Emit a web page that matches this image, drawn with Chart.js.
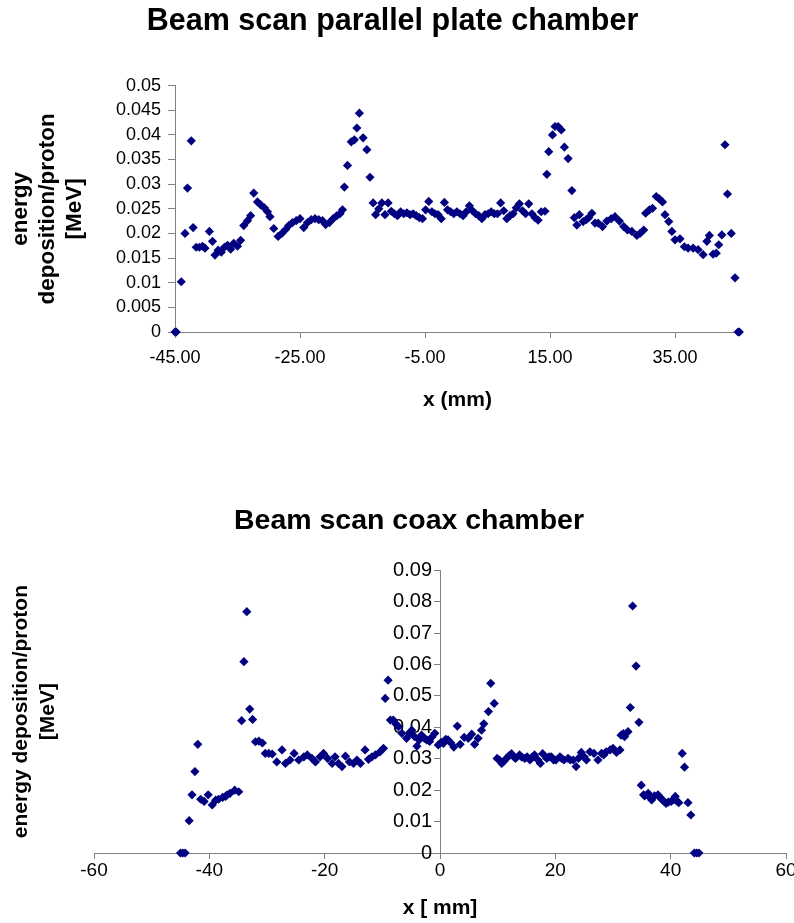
<!DOCTYPE html>
<html>
<head>
<meta charset="utf-8">
<script src="https://cdn.jsdelivr.net/npm/chart.js@4"></script>
<style>
    html, body { margin: 0; padding: 0; background: #fff; }
    #caixaTopo { position: absolute; left: 0; top: 0; width: 794px; height: 462px; }
    #caixaBaixo { position: absolute; left: 0; top: 462px; width: 794px; height: 461px; }
</style>
</head>
<body>
<div id="caixaTopo"><canvas id="graficoTopo"></canvas></div>
<div id="caixaBaixo"><canvas id="graficoBaixo"></canvas></div>
<script>
//===============================================================
// ========================= DADOS ==============================
//===============================================================

// parallel plate chamber
const xTop = [
    -45.0, -44.8, -44.0, -43.4, -43.0, -42.4, -42.1, -41.6, -41.1, -40.6,
    -40.2, -39.5, -39.0, -38.6, -38.1, -37.6, -37.1, -36.6, -36.1, -35.6,
    -35.0, -34.5, -34.0, -33.4, -32.9, -32.4, -31.8, -31.3, -30.7, -30.2,
    -29.8, -29.2, -28.5, -27.9, -27.3, -26.8, -26.2, -25.6, -25.0, -24.4,
    -23.8, -23.2, -22.6, -22.0, -21.4, -20.9, -20.3, -19.7, -19.1, -18.6,
    -18.2, -17.9, -17.4, -16.8, -16.3, -15.9, -15.5, -14.9, -14.3, -13.8,
    -13.3, -12.9,
    -12.4, -11.9, -11.4, -10.9, -10.4, -9.9, -9.4, -8.9, -8.4, -7.9,
    -7.4, -6.9, -6.4, -5.9, -5.4, -4.9, -4.4, -3.9, -3.4, -2.9,
    -2.4, -1.9, -1.4, -0.9, -0.4, 0.1, 0.6, 1.1, 1.6, 2.1,
    2.6, 3.1, 3.6, 4.1, 4.6, 5.1, 5.6, 6.1, 6.6, 7.1,
    7.6, 8.1, 8.6, 9.1, 9.6, 10.1, 10.6, 11.1, 11.6, 12.1,
    12.6, 13.1, 13.6,
    14.2, 14.5, 14.8, 15.4, 15.8, 16.3, 16.8, 17.3, 17.9, 18.5,
    18.9, 19.3, 19.7, 20.3, 20.8, 21.2, 21.7, 22.2, 22.7, 23.4,
    24.1, 24.8, 25.4, 26.1, 26.8, 27.4, 28.1, 28.9, 29.4, 30.0,
    30.3, 30.9, 31.4, 32.0, 32.5, 33.0, 33.4, 34.0, 34.5, 35.0,
    35.8, 36.5, 37.1, 37.9, 38.7, 39.5, 40.1, 40.5, 41.1, 41.6,
    42.0, 42.5, 43.0, 43.4, 44.0, 44.6, 45.1, 45.3
];
const yTop = [
    0, 0, 0.0102, 0.0200, 0.0292, 0.0388, 0.0212, 0.0172, 0.0172, 0.0174,
    0.0170, 0.0204, 0.0184, 0.0156, 0.0166, 0.0162, 0.0172, 0.0176, 0.0168, 0.0180,
    0.0174, 0.0186, 0.0216, 0.0226, 0.0236, 0.0282, 0.0264, 0.0258, 0.0252, 0.0244,
    0.0234, 0.0210, 0.0194, 0.0200, 0.0208, 0.0216, 0.0222, 0.0226, 0.0230, 0.0212,
    0.0222, 0.0228, 0.0230, 0.0228, 0.0226, 0.0218, 0.0222, 0.0230, 0.0236, 0.0240,
    0.0248, 0.0294, 0.0338, 0.0386, 0.0390, 0.0414, 0.0444, 0.0394, 0.0370, 0.0314,
    0.0262, 0.0238,
    0.0250, 0.0262, 0.0238, 0.0262, 0.0245, 0.0240, 0.0236, 0.0244, 0.0240, 0.0242,
    0.0238, 0.0240, 0.0236, 0.0232, 0.0230, 0.0248, 0.0265, 0.0244, 0.0240, 0.0238,
    0.0230, 0.0263, 0.0248, 0.0244, 0.0240, 0.0244, 0.0240, 0.0236, 0.0244, 0.0256,
    0.0246, 0.0240, 0.0236, 0.0230, 0.0238, 0.0240, 0.0244, 0.0240, 0.0240, 0.0262,
    0.0246, 0.0230, 0.0236, 0.0240, 0.0252, 0.0260, 0.0246, 0.0240, 0.0260, 0.0240,
    0.0232, 0.0227, 0.0244,
    0.0245, 0.0320, 0.0366, 0.0400, 0.0417, 0.0417, 0.0410, 0.0375, 0.0352, 0.0287,
    0.0232, 0.0217, 0.0238, 0.0224, 0.0228, 0.0232, 0.0241, 0.0221, 0.0221, 0.0214,
    0.0225, 0.0230, 0.0234, 0.0225, 0.0214, 0.0207, 0.0204, 0.0196, 0.0200, 0.0207,
    0.0241, 0.0248, 0.0251, 0.0275, 0.0270, 0.0264, 0.0238, 0.0224, 0.0204, 0.0187,
    0.0189, 0.0173, 0.0170, 0.0170, 0.0167, 0.0157, 0.0184, 0.0196, 0.0158, 0.0160,
    0.0177, 0.0197, 0.0380, 0.0280, 0.0200, 0.0110, 0, 0
];
const xTicksTop = [-45, -25, -5, 15, 35];
const xTickLabelsTop = ["-45.00", "-25.00", "-5.00", "15.00", "35.00"];
const yTicksTop = [0, 0.005, 0.01, 0.015, 0.02, 0.025, 0.03, 0.035, 0.04, 0.045, 0.05];
const yTickLabelsTop = ["0", "0.005", "0.01", "0.015", "0.02", "0.025", "0.03", "0.035", "0.04", "0.045", "0.05"];

// coax chamber
const xBot = [
    -45.0, -44.6, -44.2, -43.5, -43.0, -42.5, -42.0, -41.5, -40.9, -40.2,
    -39.5, -38.9, -38.4, -37.7, -37.2, -36.9, -36.4, -35.6, -34.9, -34.4,
    -34.0, -33.5, -33.0, -32.5, -32.0, -31.4, -30.8, -30.3, -29.7, -29.1,
    -28.3, -27.4, -26.8, -26.0, -25.3, -24.5, -23.6, -23.0, -22.2, -21.6,
    -20.8, -20.2, -19.5, -18.7, -18.2, -17.6, -17.0, -16.4, -15.7, -15.0,
    -14.4, -13.8, -13.0, -12.4, -11.8, -11.2, -10.4, -9.8, -9.5, -9.0,
    -8.6, -8.1, -7.6, -7.2, -6.6, -5.8, -5.3, -4.9, -4.4, -4.0,
    -3.6, -3.2, -2.7, -2.3, -1.8, -1.4, -0.9, -0.3, 0.2, 0.6,
    1.0, 1.4, 1.9, 2.4, 3.0, 3.5, 4.2, 4.9, 5.5, 6.0,
    6.6, 7.2, 7.6, 8.4, 8.8, 9.4, 9.9, 10.3, 10.7, 11.1,
    11.5, 12.0, 12.4, 12.8, 13.1, 13.8, 14.2, 14.7, 15.1, 15.6,
    16.0, 16.4, 17.0, 17.4, 17.8, 18.5, 18.9, 19.3, 19.7, 20.1,
    20.8, 21.1, 21.5, 22.2, 22.6, 23.1, 23.6, 24.0, 24.5, 25.0,
    25.4, 26.0, 26.7, 27.4, 28.0, 28.4, 28.8, 29.5, 30.0, 30.6,
    31.2, 31.4, 31.8, 32.0, 32.6, 33.0, 33.4, 34.0, 34.5, 34.9,
    35.3, 35.5, 36.1, 36.5, 36.7, 37.2, 37.8, 38.1, 38.4, 38.8,
    39.2, 39.6, 40.1, 40.5, 40.8, 41.1, 41.4, 42.0, 42.4, 43.0,
    43.5, 44.1, 44.5, 44.9
];
const yBot = [
    0, 0, 0, 0.0103, 0.0185, 0.0259, 0.0346, 0.0171, 0.0164, 0.0185,
    0.0153, 0.0168, 0.0171, 0.0177, 0.0180, 0.0185, 0.0190, 0.0200, 0.0195, 0.0421,
    0.0609, 0.0768, 0.0458, 0.0425, 0.0354, 0.0356, 0.0350, 0.0317, 0.0317, 0.0315,
    0.0290, 0.0328, 0.0285, 0.0296, 0.0317, 0.0296, 0.0306, 0.0312, 0.0301, 0.0290,
    0.0306, 0.0317, 0.0301, 0.0285, 0.0306, 0.0285, 0.0275, 0.0308, 0.0290, 0.0285,
    0.0296, 0.0285, 0.0328, 0.0298, 0.0306, 0.0312, 0.0322, 0.0333, 0.0492, 0.0550,
    0.0423, 0.0423, 0.0410, 0.0402, 0.0381, 0.0365, 0.0380, 0.0391, 0.0370, 0.0340,
    0.0360, 0.0375, 0.0365, 0.0360, 0.0355, 0.0369, 0.0381, 0.0344, 0.0352, 0.0349,
    0.0362, 0.0360, 0.0350, 0.0337, 0.0404, 0.0346, 0.0368, 0.0365, 0.0378, 0.0346,
    0.0365, 0.0391, 0.0411, 0.0450, 0.0540, 0.0476, 0.0301, 0.0296, 0.0285, 0.0292,
    0.0301, 0.0310, 0.0316, 0.0306, 0.0301, 0.0312, 0.0305, 0.0301, 0.0306, 0.0296,
    0.0306, 0.0312, 0.0296, 0.0285, 0.0316, 0.0301, 0.0306, 0.0306, 0.0296, 0.0296,
    0.0306, 0.0301, 0.0296, 0.0301, 0.0296, 0.0296, 0.0275, 0.0301, 0.0320, 0.0306,
    0.0296, 0.0322, 0.0317, 0.0296, 0.0317, 0.0312, 0.0322, 0.0328, 0.0333, 0.0320,
    0.0328, 0.0375, 0.0380, 0.0370, 0.0386, 0.0463, 0.0786, 0.0595, 0.0416, 0.0216,
    0.0185, 0.0182, 0.0190, 0.0175, 0.0169, 0.0182, 0.0185, 0.0178, 0.0172, 0.0165,
    0.0158, 0.0162, 0.0164, 0.0170, 0.0180, 0.0165, 0.0160, 0.0317, 0.0273, 0.0160,
    0.0121, 0, 0, 0
];
const xTicksBot = [-60, -40, -20, 0, 20, 40, 60];
const xTickLabelsBot = ["-60", "-40", "-20", "0", "20", "40", "60"];
const yTicksBot = [0, 0.01, 0.02, 0.03, 0.04, 0.05, 0.06, 0.07, 0.08, 0.09];
const yTickLabelsBot = ["0", "0.01", "0.02", "0.03", "0.04", "0.05", "0.06", "0.07", "0.08", "0.09"];

//===============================================================
// ======================== ESTILO ==============================
//===============================================================

const corPonto = "#000080";
const corEixo = "#808080";

Chart.defaults.font.family = "'Liberation Sans', Arial, sans-serif";
Chart.defaults.color = "#000";

function montarPontos(xs, ys) {
    return xs.map((x, i) => ({ x: x, y: ys[i] }));
}

function conjunto(xs, ys) {
    return {
        data: montarPontos(xs, ys),
        pointStyle: "rectRot",
        pointRadius: 4.6,
        pointHoverRadius: 4.6,
        backgroundColor: corPonto,
        borderColor: corPonto,
        borderWidth: 0,
        clip: false,
        yAxisID: "y"
    };
}

// o eixo y do gráfico de baixo fica em x = 0 e o Chart.js cola os rótulos
// na linha do eixo; empurra eles um pouco para a esquerda
const afastarRotulosY = {
    id: "afastarRotulosY",
    beforeDraw(chart) {
        chart.scales.y.getLabelItems().forEach(item => {
            if (!item.movido) {
                item.options.translation[0] -= 8;
                item.movido = true;
            }
        });
    }
};

//===============================================================
// ==================== GRÁFICO DE CIMA =========================
//===============================================================

new Chart(document.getElementById("graficoTopo"), {
    type: "scatter",
    data: { datasets: [conjunto(xTop, yTop)] },
    options: {
        responsive: true,
        maintainAspectRatio: false,
        animation: false,
        layout: { padding: { left: 0, right: 9, top: 0, bottom: 0 } },
        plugins: {
            legend: { display: false },
            tooltip: { enabled: false },
            title: {
                display: true,
                text: "Beam scan parallel plate chamber",
                color: "#000",
                font: { size: 30.5, weight: "bold" },
                padding: { top: 3, bottom: 46 }
            }
        },
        scales: {
            x: {
                type: "linear",
                min: -45,
                max: 45.4,
                afterBuildTicks: s => { s.ticks = xTicksTop.map(v => ({ value: v })); },
                // a folga da direita conta a partir da borda do canvas
                afterFit: s => { s.height = 130; s.paddingLeft = 0; s.paddingRight = 54; },
                ticks: {
                    font: { size: 18 },
                    padding: 9,
                    maxRotation: 0,
                    autoSkip: false,
                    callback: (v, i) => xTickLabelsTop[i]
                },
                grid: { drawOnChartArea: false, tickLength: 6, color: corEixo },
                border: { color: corEixo },
                title: {
                    display: true,
                    text: "x (mm)",
                    font: { size: 21, weight: "bold" },
                    padding: { top: 0, bottom: 49 }
                }
            },
            y: {
                min: 0,
                max: 0.05,
                afterBuildTicks: s => { s.ticks = yTicksTop.map(v => ({ value: v })); },
                afterFit: s => { s.width = 175; },
                ticks: {
                    font: { size: 18 },
                    padding: 7,
                    autoSkip: false,
                    callback: (v, i) => yTickLabelsTop[i]
                },
                grid: { drawOnChartArea: false, tickLength: 7, color: corEixo },
                border: { color: corEixo },
                title: {
                    display: true,
                    text: ["energy", "deposition/proton", "[MeV]"],
                    font: { size: 22.5, weight: "bold", lineHeight: 1.18 },
                    padding: { top: 8, bottom: 0 }
                }
            }
        }
    }
});

//===============================================================
// ==================== GRÁFICO DE BAIXO ========================
//===============================================================

new Chart(document.getElementById("graficoBaixo"), {
    type: "scatter",
    data: { datasets: [conjunto(xBot, yBot)] },
    plugins: [afastarRotulosY],
    options: {
        responsive: true,
        maintainAspectRatio: false,
        animation: false,
        layout: { padding: { left: 32, right: 8, top: 0, bottom: 0 } },
        plugins: {
            legend: { display: false },
            tooltip: { enabled: false },
            title: {
                display: true,
                text: "Beam scan coax chamber",
                color: "#000",
                font: { size: 28.5, weight: "bold" },
                padding: { top: 42, bottom: 32 }
            }
        },
        scales: {
            x: {
                type: "linear",
                min: -60,
                max: 60,
                afterBuildTicks: s => { s.ticks = xTicksBot.map(v => ({ value: v })); },
                afterFit: s => { s.height = 70; s.paddingLeft = 0; s.paddingRight = 0; },
                ticks: {
                    font: { size: 19 },
                    padding: 0,
                    maxRotation: 0,
                    autoSkip: false,
                    callback: (v, i) => xTickLabelsBot[i]
                },
                grid: { drawOnChartArea: false, tickLength: 6, color: corEixo },
                border: { color: corEixo },
                title: {
                    display: true,
                    text: "x [ mm]",
                    font: { size: 21, weight: "bold" },
                    padding: { top: 0, bottom: 2 }
                }
            },
            y: {
                position: { x: 0 },
                min: 0,
                max: 0.09,
                afterBuildTicks: s => { s.ticks = yTicksBot.map(v => ({ value: v })); },
                ticks: {
                    font: { size: 20 },
                    padding: 6,
                    autoSkip: false,
                    callback: (v, i) => yTickLabelsBot[i]
                },
                grid: { drawOnChartArea: false, tickLength: 6, color: corEixo },
                border: { color: corEixo }
            },
            yTitulo: {
                type: "linear",
                position: "left",
                min: 0,
                max: 1,
                afterFit: s => { s.width = 62; },
                ticks: { display: false },
                grid: { display: false },
                border: { display: false },
                title: {
                    display: true,
                    text: ["energy deposition/proton", "[MeV]"],
                    font: { size: 21, weight: "bold", lineHeight: 1.27 },
                    padding: { top: -24, bottom: 0 }
                }
            }
        }
    }
});
</script>
</body>
</html>
